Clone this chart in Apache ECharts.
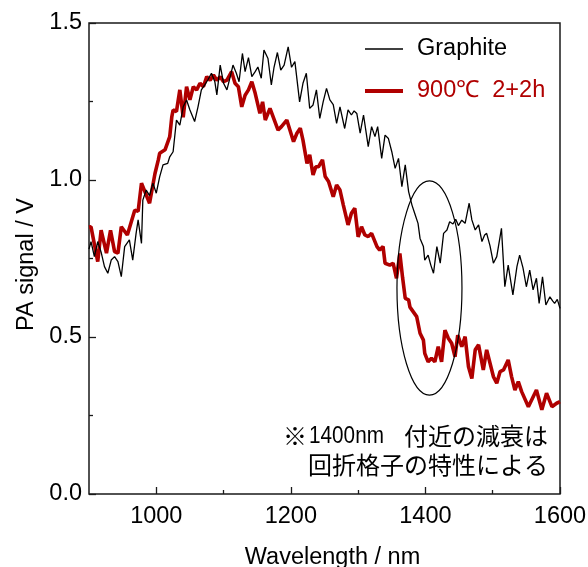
<!DOCTYPE html>
<html>
<head>
<meta charset="utf-8">
<script src="https://cdn.jsdelivr.net/npm/echarts@6/dist/echarts.min.js"></script>
<style>
  html, body { margin: 0; padding: 0; background: #fff; }
  #chart { width: 588px; height: 567px; }
</style>
</head>
<body>
<div id="chart"></div>
<script>
// Photoacoustic spectra: [wavelength (nm), PA signal (V)]
const graphite = [
  [900,0.78],[903,0.804],[908,0.756],[913,0.804],[918,0.77],[923,0.724],[928,0.703],[933,0.745],[938,0.756],
  [943,0.74],[948,0.692],[953,0.788],[960,0.809],[965,0.745],[970,0.83],[973,0.873],[978,0.798],[980,0.936],
  [985,0.968],[990,0.95],[995,0.99],[1000,0.958],[1005,1.01],[1010,1.048],[1017,1.053],[1020,1.074],[1025,1.09],
  [1030,1.191],[1035,1.175],[1040,1.233],[1045,1.255],[1050,1.223],[1057,1.186],[1062,1.233],[1067,1.287],
  [1072,1.303],[1077,1.32],[1082,1.34],[1087,1.313],[1090,1.271],[1095,1.366],[1100,1.308],[1105,1.287],
  [1110,1.33],[1114,1.366],[1119,1.34],[1123,1.313],[1128,1.403],[1132,1.345],[1137,1.39],[1142,1.329],
  [1147,1.345],[1151,1.36],[1156,1.324],[1160,1.414],[1166,1.387],[1171,1.303],[1175,1.359],[1180,1.406],
  [1185,1.35],[1190,1.366],[1196,1.424],[1201,1.359],[1206,1.377],[1213,1.249],[1218,1.308],[1223,1.34],
  [1228,1.228],[1233,1.239],[1238,1.287],[1243,1.196],[1248,1.249],[1253,1.292],[1258,1.255],[1263,1.24],
  [1268,1.18],[1273,1.233],[1280,1.164],[1285,1.223],[1290,1.207],[1294,1.22],[1298,1.212],[1303,1.149],
  [1308,1.207],[1315,1.106],[1320,1.17],[1325,1.138],[1329,1.17],[1335,1.069],[1340,1.143],[1345,1.132],
  [1350,1.09],[1355,1.037],[1360,1.069],[1365,0.979],[1370,1.048],[1375,0.963],[1380,0.92],[1384,0.894],
  [1389,0.862],[1392,0.814],[1397,0.788],[1399,0.745],[1404,0.761],[1408,0.729],[1412,0.703],[1417,0.788],
  [1422,0.735],[1427,0.83],[1432,0.841],[1436,0.867],[1441,0.86],[1445,0.875],[1449,0.855],[1454,0.872],
  [1459,0.862],[1465,0.926],[1469,0.873],[1474,0.841],[1479,0.857],[1484,0.804],[1488,0.825],[1491,0.83],
  [1496,0.79],[1501,0.735],[1506,0.756],[1513,0.846],[1518,0.66],[1523,0.729],[1530,0.634],[1536,0.724],
  [1540,0.761],[1545,0.72],[1550,0.66],[1555,0.713],[1560,0.65],[1565,0.687],[1569,0.607],[1574,0.692],
  [1579,0.602],[1585,0.628],[1589,0.615],[1592,0.607],[1596,0.62],[1600,0.591]
];

const annealed = [
  [900,0.85],[903,0.851],[913,0.74],[918,0.84],[926,0.767],[932,0.84],[938,0.772],[943,0.767],
  [948,0.851],[957,0.825],[968,0.904],[973,0.9],[978,0.99],[990,0.926],[998,1.02],[1003,1.064],
  [1005,1.085],[1013,1.096],[1020,1.138],[1023,1.2],[1025,1.223],[1030,1.218],[1035,1.287],[1040,1.2],
  [1045,1.297],[1050,1.255],[1055,1.297],[1060,1.287],[1065,1.308],[1070,1.297],[1075,1.329],[1080,1.318],
  [1085,1.334],[1090,1.318],[1095,1.329],[1100,1.313],[1105,1.318],[1112,1.345],[1117,1.308],[1122,1.297],
  [1127,1.233],[1132,1.27],[1137,1.287],[1142,1.313],[1147,1.276],[1154,1.212],[1158,1.249],[1162,1.191],
  [1169,1.228],[1181,1.159],[1186,1.17],[1194,1.191],[1204,1.122],[1209,1.149],[1214,1.165],[1218,1.127],
  [1224,1.053],[1228,1.08],[1233,1.016],[1237,1.042],[1241,1.042],[1247,1.064],[1251,1.011],[1256,0.995],
  [1258,0.995],[1263,0.947],[1268,0.984],[1273,0.968],[1278,0.92],[1285,0.857],[1290,0.894],[1295,0.91],
  [1300,0.819],[1305,0.851],[1310,0.825],[1315,0.82],[1320,0.83],[1328,0.788],[1332,0.777],[1337,0.788],
  [1340,0.735],[1347,0.729],[1352,0.735],[1357,0.687],[1362,0.766],[1366,0.69],[1370,0.623],[1375,0.618],
  [1377,0.595],[1387,0.565],[1392,0.512],[1397,0.49],[1399,0.448],[1404,0.421],[1409,0.432],[1414,0.421],
  [1419,0.469],[1424,0.421],[1429,0.522],[1434,0.496],[1439,0.48],[1444,0.437],[1448,0.506],[1454,0.469],
  [1459,0.501],[1464,0.405],[1469,0.368],[1474,0.459],[1479,0.475],[1486,0.395],[1491,0.459],[1501,0.374],
  [1506,0.353],[1511,0.39],[1516,0.395],[1523,0.427],[1528,0.374],[1533,0.331],[1538,0.358],[1543,0.326],
  [1553,0.278],[1565,0.331],[1573,0.268],[1580,0.321],[1588,0.278],[1595,0.289],[1600,0.294]
];

const seriesNames = ['Graphite', '900℃  2+2h'];
const xMajorTicks = [1000, 1200, 1400, 1600];
const xMinorTicks = [1100, 1300, 1500];
// Note text: first line in three runs (mark, number, words), second line whole
const noteLine1 = ['※', '1400nm', '付近の減衰は'];
const noteLine2 = '回折格子の特性による';

// Ellipse marking the dip near 1400 nm, in data units
const dipCenter = [1406, 0.656];
const dipHalfSize = [48.3, 0.341];
// Right edge of the note text and the middle of its two lines, in data units
const noteAnchor = { wl: 1582, line1: 0.185, line2: 0.092 };

const LATIN = "'Liberation Sans', Arial, sans-serif";
const CJK = "'Noto Sans CJK JP', 'Liberation Sans', sans-serif";
const INK = '#1a1a1a';
const RED = '#b00000';

const chart = echarts.init(document.getElementById('chart'), null, { renderer: 'canvas' });

const axisText = { color: '#000', fontFamily: LATIN, fontSize: 23.5 };

chart.setOption({
  animation: false,
  grid: {
    left: 89, right: 28, top: 23, bottom: 73,
    outerBoundsMode: 'none', containLabel: false,
    show: true, borderColor: INK, borderWidth: 1.5, backgroundColor: 'transparent'
  },
  legend: {
    orient: 'vertical',
    left: 360, top: 32,
    itemWidth: 38, itemHeight: 14, itemGap: 18,
    textStyle: Object.assign({ padding: [0, 0, 0, 9] }, axisText),
    data: [
      { name: seriesNames[0], icon: 'path://M0,0H38V1.3H0Z', textStyle: { color: '#000' } },
      { name: seriesNames[1], icon: 'path://M0,0H38V4H0Z', textStyle: { color: RED } }
    ]
  },
  xAxis: [
    {
      type: 'value', min: 900, max: 1600, interval: 100,
      axisLine: { show: false },
      splitLine: { show: false },
      axisTick: { inside: true, length: 7, customValues: xMajorTicks, lineStyle: { color: INK, width: 1.3 } },
      axisLabel: Object.assign({ customValues: xMajorTicks, margin: 11, formatter: v => String(v) }, axisText),
      name: 'Wavelength / nm', nameLocation: 'middle', nameGap: 52,
      nameTextStyle: Object.assign({ padding: [0, 0, 0, 16] }, axisText)
    },
    {
      type: 'value', min: 900, max: 1600, interval: 100, position: 'bottom',
      axisLine: { show: false },
      splitLine: { show: false },
      axisTick: { inside: true, length: 4, customValues: xMinorTicks, lineStyle: { color: INK, width: 1.3 } },
      axisLabel: { show: false }
    }
  ],
  yAxis: {
    type: 'value', min: 0, max: 1.5, interval: 0.5,
    axisLine: { show: false },
    splitLine: { show: false },
    axisTick: { inside: true, length: 7, lineStyle: { color: INK, width: 1.3 } },
    minorTick: { show: true, splitNumber: 2, length: 4, lineStyle: { color: INK, width: 1.3 } },
    minorSplitLine: { show: false },
    axisLabel: Object.assign({ margin: 7, formatter: v => v.toFixed(1) }, axisText),
    name: 'PA signal / V', nameLocation: 'middle', nameGap: 48,
    nameTextStyle: Object.assign({ padding: [0, 12, 0, 0] }, axisText)
  },
  series: [
    {
      name: seriesNames[0], type: 'line', data: graphite, symbol: 'none', z: 3,
      lineStyle: { color: '#000', width: 1.3 }, itemStyle: { color: '#000' }
    },
    {
      name: seriesNames[1], type: 'line', data: annealed, symbol: 'none', z: 2,
      lineStyle: { color: RED, width: 3.6 }, itemStyle: { color: RED }
    }
  ]
});

// Annotation drawn in pixel space from data coordinates
const finder = { xAxisIndex: 0, yAxisIndex: 0 };
const c = chart.convertToPixel(finder, dipCenter);
const e = chart.convertToPixel(finder, [dipCenter[0] + dipHalfSize[0], dipCenter[1] + dipHalfSize[1]]);
const a1 = chart.convertToPixel(finder, [noteAnchor.wl, noteAnchor.line1]);
const a2 = chart.convertToPixel(finder, [noteAnchor.wl, noteAnchor.line2]);

const noteStyle = { align: 'right', verticalAlign: 'middle', fontFamily: CJK, fontSize: 24, fill: '#000' };
// The number run uses a slightly narrowed Latin face; runs are placed right to left
const wordsWidth = 24 * noteLine1[2].length;
const numberRight = a1[0] - wordsWidth - 20;
const numberSize = 23;
const numberScale = 0.9;
const numberWidth = numberSize * 3.613 * numberScale;

chart.setOption({
  graphic: [
    {
      type: 'ellipse', z: 10, silent: true,
      shape: { cx: c[0], cy: c[1], rx: Math.abs(e[0] - c[0]), ry: Math.abs(c[1] - e[1]) },
      style: { fill: 'none', stroke: '#000', lineWidth: 1.2 }
    },
    {
      type: 'text', z: 10, silent: true, x: a1[0], y: a1[1],
      style: Object.assign({ text: noteLine1[2] }, noteStyle)
    },
    {
      type: 'text', z: 10, silent: true, x: numberRight, y: a1[1] + 1, scaleX: numberScale,
      style: Object.assign({}, noteStyle, { text: noteLine1[1], fontFamily: LATIN, fontSize: numberSize })
    },
    {
      type: 'text', z: 10, silent: true, x: numberRight - numberWidth - 2, y: a1[1],
      style: Object.assign({ text: noteLine1[0] }, noteStyle)
    },
    {
      type: 'text', z: 10, silent: true, x: a2[0], y: a2[1],
      style: Object.assign({ text: noteLine2 }, noteStyle)
    }
  ]
});
</script>
</body>
</html>
